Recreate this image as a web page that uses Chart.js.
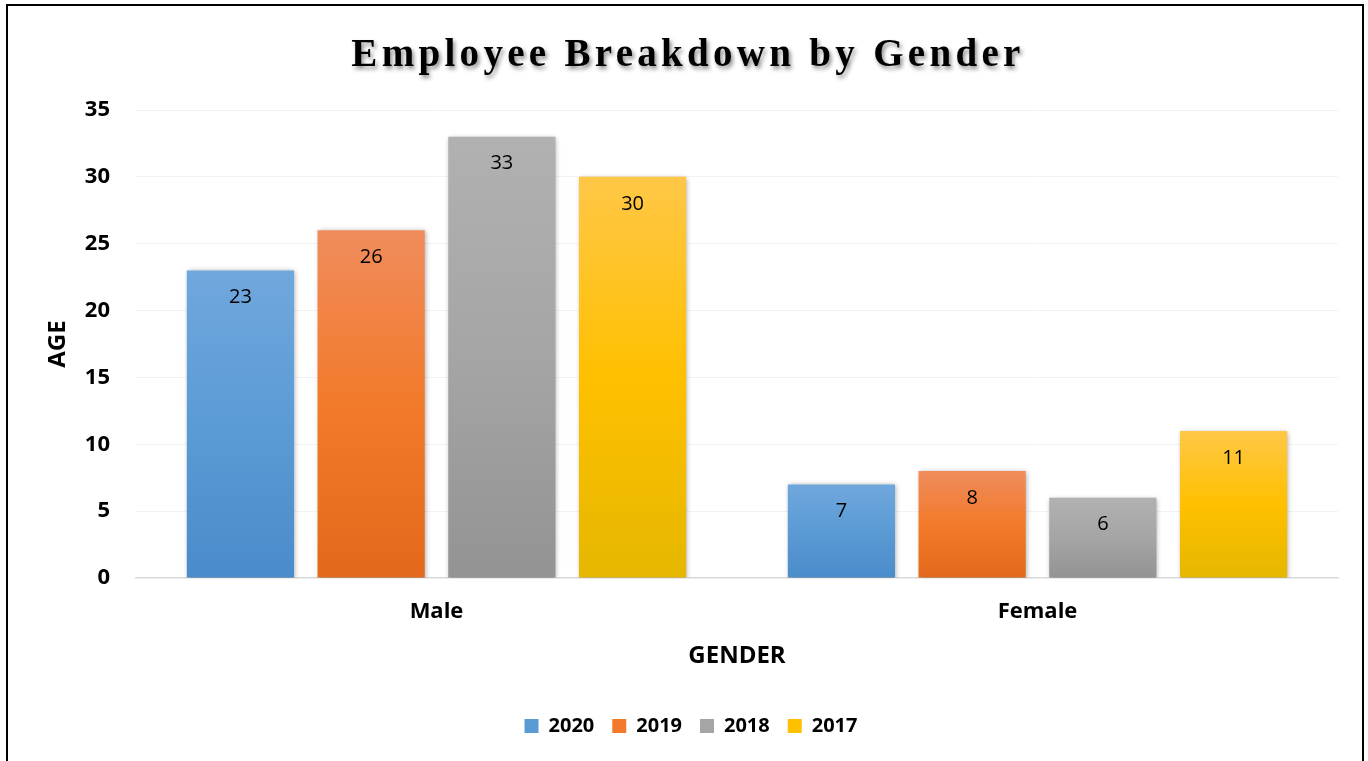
<!DOCTYPE html>
<html>
<head>
<meta charset="utf-8">
<script src="https://cdn.jsdelivr.net/npm/chart.js@4.4.1/dist/chart.umd.min.js"></script>
<style>
  html, body { margin: 0; padding: 0; background: #fff; }
  #wrap { position: relative; width: 1368px; height: 761px; overflow: hidden; }
  #frame { position: absolute; left: 6px; top: 4px; width: 1358px; height: 780px; border: 2px solid #000; box-sizing: border-box; pointer-events: none; }
  canvas { position: absolute; left: 0; top: 0; }
</style>
</head>
<body>
<div id="wrap">
  <canvas id="c" width="1368" height="761"></canvas>
  <div id="frame"></div>
</div>
<script>
// ---- data ----
const chartTitle = 'Employee Breakdown by Gender';
const categories = ['Male', 'Female'];
const seriesNames = ['2020', '2019', '2018', '2017'];
const values2020 = [23, 7];
const values2019 = [26, 8];
const values2018 = [33, 6];
const values2017 = [30, 11];
const yTicks = [0, 5, 10, 15, 20, 25, 30, 35];
const xAxisTitle = 'GENDER';
const yAxisTitle = 'AGE';

// ---- styles ----
const gradStops = [
  ['#70a7dd', '#5b9bd5', '#4a8bca'],
  ['#f08c5c', '#f27a2a', '#e3681b'],
  ['#b1b1b1', '#a5a5a5', '#939393'],
  ['#ffc747', '#ffc000', '#e5b700']
];
const seriesValues = [values2020, values2019, values2018, values2017];

function barGradient(ctx, i) {
  const chart = ctx.chart;
  const stops = gradStops[i];
  if (!chart.chartArea || !chart.scales.y || ctx.raw === undefined) return stops[1];
  const y = chart.scales.y;
  const top = y.getPixelForValue(ctx.raw);
  const bot = y.getPixelForValue(0);
  if (!isFinite(top) || !isFinite(bot) || top === bot) return stops[1];
  const g = chart.ctx.createLinearGradient(0, top, 0, bot);
  g.addColorStop(0, stops[0]);
  g.addColorStop(0.5, stops[1]);
  g.addColorStop(1, stops[2]);
  return g;
}

const datasets = seriesNames.map((name, i) => ({
  label: name,
  data: seriesValues[i],
  backgroundColor: (ctx) => barGradient(ctx, i),
  borderWidth: 0,
  categoryPercentage: 0.87,
  barPercentage: 0.82
}));

const FONT = "'Open Sans', 'Liberation Sans', sans-serif";

const titlePlugin = {
  id: 'serifTitle',
  afterDraw(chart) {
    const ctx = chart.ctx;
    ctx.save();
    ctx.font = "bold 39px 'Liberation Serif', 'DejaVu Serif', serif";
    try { ctx.letterSpacing = '4.3px'; } catch (e) {}
    ctx.textAlign = 'center';
    ctx.textBaseline = 'alphabetic';
    ctx.shadowColor = 'rgba(0,0,0,0.45)';
    ctx.shadowBlur = 4;
    ctx.shadowOffsetX = 2;
    ctx.shadowOffsetY = 3;
    ctx.fillStyle = '#000';
    ctx.fillText(chartTitle, 688, 66);
    ctx.restore();
  }
};

const shadowPlugin = {
  id: 'barShadow',
  beforeDatasetsDraw(chart) {
    const ctx = chart.ctx;
    ctx.save();
    ctx.shadowColor = 'rgba(0,0,0,0.35)';
    ctx.shadowBlur = 5;
    ctx.shadowOffsetX = 1;
    ctx.shadowOffsetY = 1;
  },
  afterDatasetsDraw(chart) {
    chart.ctx.restore();
  }
};

const labelPlugin = {
  id: 'barLabels',
  afterDatasetsDraw(chart) {
    const ctx = chart.ctx;
    ctx.save();
    ctx.font = "20px " + FONT;
    ctx.fillStyle = '#000';
    ctx.textAlign = 'center';
    ctx.textBaseline = 'middle';
    chart.data.datasets.forEach((ds, di) => {
      const meta = chart.getDatasetMeta(di);
      meta.data.forEach((el, idx) => {
        ctx.fillText(String(ds.data[idx]), el.x, el.y + 27);
      });
    });
    ctx.restore();
  }
};

new Chart(document.getElementById('c'), {
  type: 'bar',
  data: { labels: categories, datasets },
  plugins: [shadowPlugin, labelPlugin, titlePlugin],
  options: {
    responsive: false,
    animation: false,
    events: [],
    layout: { padding: { top: 110, left: 44, right: 30, bottom: 15 } },
    plugins: {
      title: { display: false },
      tooltip: { enabled: false },
      legend: {
        display: true,
        position: 'bottom',
        labels: {
          font: { family: FONT, size: 20, weight: 'bold' },
          color: '#000',
          boxWidth: 14,
          boxHeight: 14,
          padding: 18,
          generateLabels(chart) {
            return chart.data.datasets.map((ds, i) => ({
              text: ds.label,
              fillStyle: gradStops[i][1],
              strokeStyle: gradStops[i][1],
              lineWidth: 0,
              datasetIndex: i,
              hidden: false
            }));
          }
        }
      }
    },
    scales: {
      x: {
        grid: { display: false, drawTicks: false },
        border: { display: true, color: '#d9d9d9', width: 1.5 },
        ticks: { font: { family: FONT, size: 22, weight: 'bold' }, color: '#000', padding: 21 },
        title: {
          display: true, text: xAxisTitle, color: '#000',
          font: { family: FONT, size: 24, weight: 'bold' },
          padding: { top: 0, bottom: 27 }
        },
        afterFit(scale) { scale.height = 120; }
      },
      y: {
        min: 0,
        max: 35,
        afterBuildTicks(scale) { scale.ticks = yTicks.map(v => ({ value: v })); },
        grid: {
          drawTicks: false,
          color: (c) => (c.tick && c.tick.value === 0) ? 'rgba(0,0,0,0)' : '#f3f3f3',
          lineWidth: 1
        },
        border: { display: false },
        ticks: { font: { family: FONT, size: 22, weight: 'bold' }, color: '#000', padding: 26 },
        title: {
          display: true, text: yAxisTitle, color: '#000',
          font: { family: FONT, size: 24, weight: 'bold' },
          padding: { top: 0, bottom: 0 }
        },
        afterFit(scale) { scale.width = 92; }
      }
    }
  }
});
</script>
</body>
</html>
